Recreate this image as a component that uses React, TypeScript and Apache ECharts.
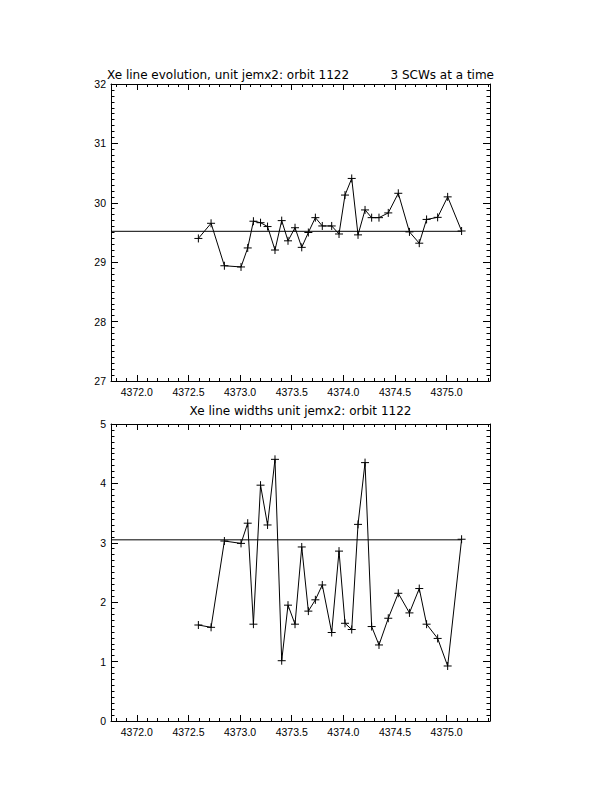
import React, { useEffect, useRef } from "react";
import * as echarts from "echarts";

// Shared time axis values (days)
const timeValues = [
  4372.596, 4372.719, 4372.848, 4373.009, 4373.074, 4373.129, 4373.198, 4373.266,
  4373.338, 4373.403, 4373.464, 4373.532, 4373.597, 4373.661, 4373.729, 4373.796,
  4373.887, 4373.958, 4374.016, 4374.081, 4374.142, 4374.21, 4374.274, 4374.345,
  4374.435, 4374.532, 4374.64, 4374.735, 4374.806, 4374.913, 4375.01, 4375.145,
];

// Xe line position (top panel)
const lineEvolution = [
  29.4, 29.655, 28.94, 28.92, 29.24, 29.69, 29.665, 29.6,
  29.205, 29.7, 29.36, 29.58, 29.25, 29.5, 29.75, 29.61,
  29.61, 29.475, 30.13, 30.41, 29.46, 29.88, 29.75, 29.75,
  29.83, 30.16, 29.51, 29.32, 29.72, 29.755, 30.1, 29.525,
];

// Xe line widths (bottom panel)
const lineWidths = [
  1.616, 1.577, 3.03, 2.99, 3.33, 1.63, 3.97, 3.3,
  4.405, 1.015, 1.95, 1.63, 2.93, 1.85, 2.04, 2.29,
  1.49, 2.86, 1.645, 1.54, 3.31, 4.35, 1.59, 1.28,
  1.73, 2.15, 1.82, 2.23, 1.63, 1.39, 0.926, 3.06,
];

const evolutionRef = 29.52;
const widthRef = 3.05;

const xRange = [4371.75, 4375.42];
const yRangeTop = [27, 32];
const yRangeBottom = [0, 5];

const topTitleLeft = "Xe line evolution, unit jemx2: orbit 1122";
const topTitleRight = "3 SCWs at a time";
const bottomTitle = "Xe line widths unit jemx2: orbit 1122";

const FONT = "Liberation Sans";
const TITLE_FONT = "DejaVu Sans";
const PLUS = "path://M5,0 L5,10 M0,5 L10,5";

function xAxes(gridIndex: number) {
  const base = {
    type: "value",
    gridIndex,
    min: xRange[0],
    max: xRange[1],
    splitNumber: 7,
    minInterval: 0.5,
    maxInterval: 0.5,
    axisLine: { show: true, onZero: false, lineStyle: { color: "#000", width: 1 } },
    axisTick: { show: true, inside: true, length: 6, lineStyle: { color: "#000", width: 1 } },
    minorTick: { show: true, splitNumber: 5, length: 3, lineStyle: { color: "#000", width: 1 } },
    splitLine: { show: false },
    minorSplitLine: { show: false },
  };
  return [
    {
      ...base,
      position: "bottom",
      axisLabel: {
        show: true,
        showMinLabel: false,
        showMaxLabel: false,
        color: "#000",
        fontFamily: FONT,
        fontSize: 10.5,
        margin: 5,
        formatter: (v: number) => v.toFixed(1),
      },
    },
    { ...base, position: "top", axisLabel: { show: false } },
  ];
}

function yAxes(gridIndex: number, range: number[]) {
  const base = {
    type: "value",
    gridIndex,
    min: range[0],
    max: range[1],
    interval: 1,
    axisLine: { show: true, onZero: false, lineStyle: { color: "#000", width: 1 } },
    axisTick: { show: true, inside: true, length: 7, lineStyle: { color: "#000", width: 1 } },
    minorTick: { show: true, splitNumber: 10, length: 3.5, lineStyle: { color: "#000", width: 1 } },
    splitLine: { show: false },
    minorSplitLine: { show: false },
  };
  return [
    {
      ...base,
      position: "left",
      axisLabel: { show: true, color: "#000", fontFamily: FONT, fontSize: 10.5, margin: 5 },
    },
    { ...base, position: "right", axisLabel: { show: false } },
  ];
}

function dataSeries(axisX: number, axisY: number, values: number[]) {
  return {
    type: "line",
    xAxisIndex: axisX,
    yAxisIndex: axisY,
    data: timeValues.map((t, i) => [t, values[i]]),
    symbol: PLUS,
    symbolSize: 8,
    showSymbol: true,
    lineStyle: { color: "#000", width: 1 },
    itemStyle: { color: "#000", borderColor: "#000", borderWidth: 1 },
    emphasis: { disabled: true },
    z: 3,
  };
}

function refSeries(axisX: number, axisY: number, value: number) {
  return {
    type: "line",
    xAxisIndex: axisX,
    yAxisIndex: axisY,
    data: [
      [xRange[0], value],
      [timeValues[timeValues.length - 1], value],
    ],
    symbol: "none",
    lineStyle: { color: "#000", width: 1 },
    emphasis: { disabled: true },
    z: 2,
  };
}

export default function App() {
  const ref = useRef<HTMLDivElement>(null);
  useEffect(() => {
    if (!ref.current) return;
    const chart = echarts.init(ref.current, null, { renderer: "svg" });
    chart.setOption({
      animation: false,
      backgroundColor: "#fff",
      grid: [
        { left: 111, top: 84, width: 379, height: 297 },
        { left: 111, top: 424, width: 379, height: 297 },
      ],
      xAxis: [...xAxes(0), ...xAxes(1)],
      yAxis: [...yAxes(0, yRangeTop), ...yAxes(1, yRangeBottom)],
      series: [
        refSeries(0, 0, evolutionRef),
        dataSeries(0, 0, lineEvolution),
        refSeries(2, 2, widthRef),
        dataSeries(2, 2, lineWidths),
      ],
      graphic: [
        {
          type: "text",
          left: 107,
          top: 69,
          style: { text: topTitleLeft, fill: "#000", font: `12px ${TITLE_FONT}` },
        },
        {
          type: "text",
          right: 612 - 494,
          top: 69,
          style: { text: topTitleRight, fill: "#000", font: `12px ${TITLE_FONT}` },
        },
        {
          type: "text",
          x: 300.5,
          y: 405,
          style: { text: bottomTitle, fill: "#000", font: `12px ${TITLE_FONT}`, textAlign: "center" },
        },
      ],
    });
    return () => chart.dispose();
  }, []);
  return (
    <div
      ref={ref}
      style={{ position: "absolute", left: 0, top: 0, width: 612, height: 792, background: "#fff" }}
    />
  );
}
